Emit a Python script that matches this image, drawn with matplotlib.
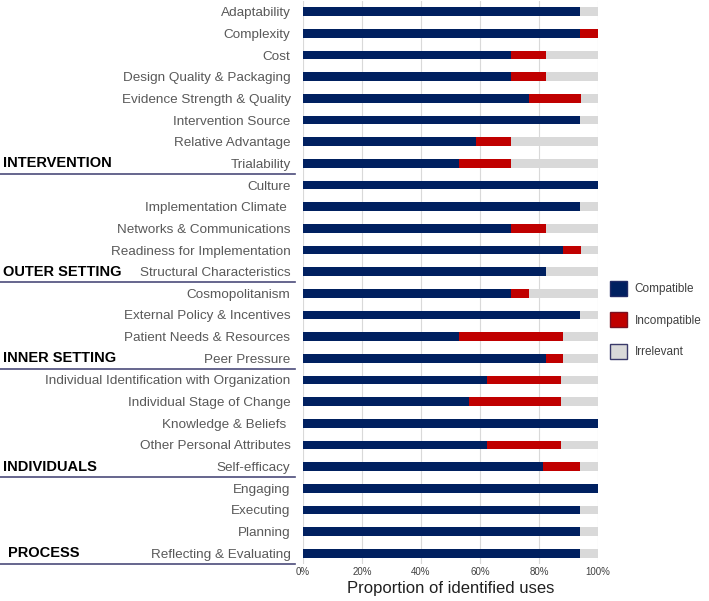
import numpy as np
import matplotlib
matplotlib.use("Agg")
import matplotlib.pyplot as plt
import matplotlib.transforms as mtransforms
from matplotlib.patches import Patch

plt.rcParams["font.family"] = ["Liberation Sans", "DejaVu Sans"]

# ================================
# Data (percent of identified uses)
# ================================
constructs = [
    "Adaptability", "Complexity", "Cost", "Design Quality & Packaging",
    "Evidence Strength & Quality", "Intervention Source", "Relative Advantage",
    "Trialability", "Culture", "Implementation Climate ", "Networks & Communications",
    "Readiness for Implementation", "Structural Characteristics", "Cosmopolitanism",
    "External Policy & Incentives", "Patient Needs & Resources", "Peer Pressure",
    "Individual Identification with Organization", "Individual Stage of Change",
    "Knowledge & Beliefs ", "Other Personal Attributes", "Self-efficacy",
    "Engaging", "Executing", "Planning", "Reflecting & Evaluating",
]
compatible = [93.8, 93.8, 70.6, 70.6, 76.5, 93.8, 58.8, 52.9, 100, 93.8, 70.6, 88.2, 82.4,
              70.6, 93.8, 52.9, 82.4, 62.5, 56.3, 100, 62.5, 81.3, 100, 93.8, 93.8, 93.8]
incompatible = [0, 6.2, 11.8, 11.8, 17.6, 0, 11.8, 17.6, 0, 0, 11.8, 5.9, 0,
                5.9, 0, 35.3, 5.9, 25.0, 31.2, 0, 25.0, 12.5, 0, 0, 0, 0]
irrelevant = [6.2, 0, 17.6, 17.6, 5.9, 6.2, 29.4, 29.4, 0, 6.2, 17.6, 5.9, 17.6,
              23.5, 6.2, 11.8, 11.7, 12.5, 12.5, 0, 12.5, 6.2, 0, 6.2, 6.2, 6.2]

# domain label -> last construct in that domain
domains = ["INTERVENTION", "OUTER SETTING", "INNER SETTING", "INDIVIDUALS", "PROCESS"]
domain_rows = [7, 12, 16, 21, 25]

c_comp, c_inc, c_irr = "#002060", "#C00000", "#D9D9D9"

# ================================
# Plot
# ================================
fig = plt.figure(figsize=(7.09, 6.01), dpi=100)
ax = fig.add_axes([303 / 709, 1 - 564 / 601, 295 / 709, 563 / 601])

y = np.arange(len(constructs))
comp = np.array(compatible)
inc = np.array(incompatible)
irr = np.array(irrelevant)

ax.barh(y, comp, height=0.4, color=c_comp, zorder=3)
ax.barh(y, inc, left=comp, height=0.4, color=c_inc, zorder=3)
ax.barh(y, irr, left=comp + inc, height=0.4, color=c_irr, zorder=3)

ax.set_xlim(0, 100)
ax.set_ylim(len(constructs) - 0.5, -0.5)
ax.set_yticks(y)
ax.set_yticklabels(constructs, fontsize=9.7, color="#595959")
ax.set_xticks(np.arange(0, 101, 20))
ax.set_xticklabels([f"{v}%" for v in range(0, 101, 20)], fontsize=7, color="#404040")
ax.tick_params(axis="y", length=0, pad=9)
ax.tick_params(axis="x", length=0, pad=2)
ax.grid(axis="x", color="#D9D9D9", linewidth=0.8, zorder=0)
for s in ax.spines.values():
    s.set_visible(False)
ax.set_xlabel("Proportion of identified uses", fontsize=12, color="#202020", labelpad=3)

# domain labels and underlines
trans = mtransforms.blended_transform_factory(fig.transFigure, ax.transData)
for name, row in zip(domains, domain_rows):
    x0 = 8 / 709 if name == "PROCESS" else 3 / 709
    ax.text(x0, row, name, transform=trans, fontsize=10.5, fontweight="bold",
            ha="left", va="center", color="black", clip_on=False)
    ax.plot([0, 295 / 709], [row + 0.5, row + 0.5], transform=trans,
            color="#4B4B7A", linewidth=1.2, clip_on=False)

handles = [
    Patch(facecolor=c_comp, edgecolor="#1F2A66", label="Compatible"),
    Patch(facecolor=c_inc, edgecolor="#7A1020", label="Incompatible"),
    Patch(facecolor=c_irr, edgecolor="#3A3A6A", label="Irrelevant"),
]
fig.legend(handles=handles, loc="upper left", bbox_to_anchor=(599 / 709, 1 - 270 / 601),
           frameon=False, fontsize=8.5, handlelength=1.5, handleheight=1.6,
           labelspacing=1.4, handletextpad=0.6, labelcolor="#404040")

plt.savefig("out.png", dpi=100)
